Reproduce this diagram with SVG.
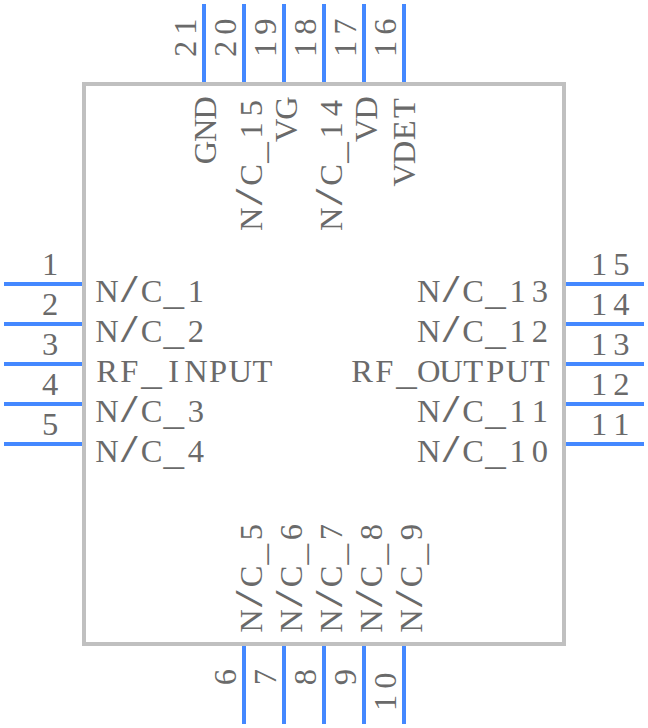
<svg xmlns="http://www.w3.org/2000/svg" width="648" height="728" viewBox="0 0 648 728">
<style>
text{font-family:"Liberation Serif",serif;font-size:32.5px;fill:#6a6a6a;text-anchor:middle}
.u{font-family:"Liberation Mono",monospace;font-size:35px}
.p{stroke:#4488ff;stroke-width:4;fill:none}
</style>
<rect width="648" height="728" fill="#fff"/>
<g id="body"><rect x="84" y="84" width="480" height="560" fill="none" stroke="#c0c0c0" stroke-width="4"/></g>
<g id="connectors">
<path class="p" d="M4 284H82M4 324H82M4 364H82M4 404H82M4 444H82"/>
<path class="p" d="M566 284H644M566 324H644M566 364H644M566 404H644M566 444H644"/>
<path class="p" d="M204 4V82M244 4V82M284 4V82M324 4V82M364 4V82M404 4V82"/>
<path class="p" d="M244 646V724M284 646V724M324 646V724M364 646V724M404 646V724"/>
</g>
<g id="pin-numbers">
<text x="50" y="275">1</text><text x="50" y="315">2</text><text x="50" y="355">3</text><text x="50" y="395">4</text><text x="50" y="435">5</text>
<text x="599.1 621.3" y="275">15</text><text x="599.1 621.3" y="315">14</text><text x="599.1 621.3" y="355">13</text><text x="599.1 621.3" y="395">12</text><text x="599.1 621.3" y="435">11</text>
<text transform="translate(195.5 60) rotate(-90)" x="11.1 33.3">21</text><text transform="translate(235.5 60) rotate(-90)" x="11.1 33.3">20</text><text transform="translate(275.5 60) rotate(-90)" x="11.1 33.3">19</text><text transform="translate(315.5 60) rotate(-90)" x="11.1 33.3">18</text><text transform="translate(355.5 60) rotate(-90)" x="11.1 33.3">17</text><text transform="translate(395.5 60) rotate(-90)" x="11.1 33.3">16</text>
<text transform="translate(235.5 677) rotate(-90)">6</text><text transform="translate(275.5 677) rotate(-90)">7</text><text transform="translate(315.5 677) rotate(-90)">8</text><text transform="translate(355.5 677) rotate(-90)">9</text><text transform="translate(395.5 714) rotate(-90)" x="11.1 33.3">10</text>
</g>
<g id="pin-names">
<text transform="translate(96 302)" x="11.1 33.3 55.5 77.7 99.9">N<tspan class="u">/</tspan>C<tspan class="u" dy="3">_</tspan><tspan dy="-3">1</tspan></text>
<text transform="translate(96 342)" x="11.1 33.3 55.5 77.7 99.9">N<tspan class="u">/</tspan>C<tspan class="u" dy="3">_</tspan><tspan dy="-3">2</tspan></text>
<text transform="translate(96 382)" x="11.1 33.3 55.5 77.7 99.9 122.1 144.3 166.5">RF<tspan class="u" dy="3">_</tspan><tspan dy="-3">INPUT</tspan></text>
<text transform="translate(96 422)" x="11.1 33.3 55.5 77.7 99.9">N<tspan class="u">/</tspan>C<tspan class="u" dy="3">_</tspan><tspan dy="-3">3</tspan></text>
<text transform="translate(96 462)" x="11.1 33.3 55.5 77.7 99.9">N<tspan class="u">/</tspan>C<tspan class="u" dy="3">_</tspan><tspan dy="-3">4</tspan></text>
<text transform="translate(417.7 302)" x="11.1 33.3 55.5 77.7 99.9 122.1">N<tspan class="u">/</tspan>C<tspan class="u" dy="3">_</tspan><tspan dy="-3">13</tspan></text>
<text transform="translate(417.7 342)" x="11.1 33.3 55.5 77.7 99.9 122.1">N<tspan class="u">/</tspan>C<tspan class="u" dy="3">_</tspan><tspan dy="-3">12</tspan></text>
<text transform="translate(351 382)" x="11.1 33.3 55.5 77.7 99.9 122.1 144.3 166.5 188.7">RF<tspan class="u" dy="3">_</tspan><tspan dy="-3">OUTPUT</tspan></text>
<text transform="translate(417.7 422)" x="11.1 33.3 55.5 77.7 99.9 122.1">N<tspan class="u">/</tspan>C<tspan class="u" dy="3">_</tspan><tspan dy="-3">11</tspan></text>
<text transform="translate(417.7 462)" x="11.1 33.3 55.5 77.7 99.9 122.1">N<tspan class="u">/</tspan>C<tspan class="u" dy="3">_</tspan><tspan dy="-3">10</tspan></text>
<text transform="translate(215.5 163.6) rotate(-90)" x="11.1 33.3 55.5">GND</text>
<text transform="translate(262 230.3) rotate(-90)" x="11.1 33.3 55.5 77.7 99.9 122.1">N<tspan class="u">/</tspan>C<tspan class="u" dy="3">_</tspan><tspan dy="-3">15</tspan></text>
<text transform="translate(296.5 141.4) rotate(-90)" x="11.1 33.3">VG</text>
<text transform="translate(342 230.3) rotate(-90)" x="11.1 33.3 55.5 77.7 99.9 122.1">N<tspan class="u">/</tspan>C<tspan class="u" dy="3">_</tspan><tspan dy="-3">14</tspan></text>
<text transform="translate(376.5 141.4) rotate(-90)" x="11.1 33.3">VD</text>
<text transform="translate(415 185.8) rotate(-90)" x="11.1 33.3 55.5 77.7">VDET</text>
<text transform="translate(262 632) rotate(-90)" x="11.1 33.3 55.5 77.7 99.9">N<tspan class="u">/</tspan>C<tspan class="u" dy="3">_</tspan><tspan dy="-3">5</tspan></text>
<text transform="translate(302 632) rotate(-90)" x="11.1 33.3 55.5 77.7 99.9">N<tspan class="u">/</tspan>C<tspan class="u" dy="3">_</tspan><tspan dy="-3">6</tspan></text>
<text transform="translate(342 632) rotate(-90)" x="11.1 33.3 55.5 77.7 99.9">N<tspan class="u">/</tspan>C<tspan class="u" dy="3">_</tspan><tspan dy="-3">7</tspan></text>
<text transform="translate(382 632) rotate(-90)" x="11.1 33.3 55.5 77.7 99.9">N<tspan class="u">/</tspan>C<tspan class="u" dy="3">_</tspan><tspan dy="-3">8</tspan></text>
<text transform="translate(422 632) rotate(-90)" x="11.1 33.3 55.5 77.7 99.9">N<tspan class="u">/</tspan>C<tspan class="u" dy="3">_</tspan><tspan dy="-3">9</tspan></text>
</g>
</svg>
